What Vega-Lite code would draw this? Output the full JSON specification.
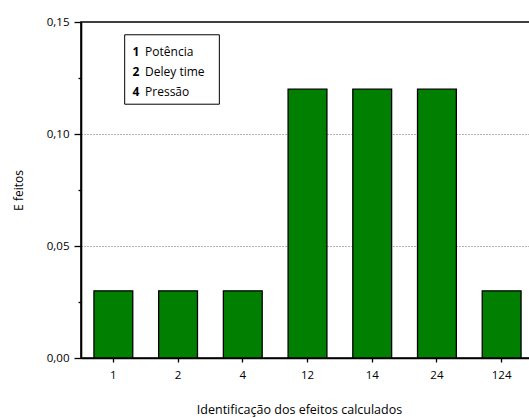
{
  "$schema": "https://vega.github.io/schema/vega-lite/v6.json",
  "autosize": "none",
  "width": 453,
  "height": 336,
  "padding": {"left": 81, "top": 22, "right": 0, "bottom": 60},
  "background": "white",
  "config": {
    "view": {"stroke": "black", "strokeWidth": 1.6},
    "font": "Open Sans",
    "axis": {"labelFont": "Open Sans", "titleFont": "Open Sans", "labelColor": "black", "titleColor": "black", "titleFontWeight": "normal"}
  },
  "datasets": {
    "effects": [
      {"effect": "1", "value": 0.03},
      {"effect": "2", "value": 0.03},
      {"effect": "4", "value": 0.03},
      {"effect": "12", "value": 0.12},
      {"effect": "14", "value": 0.12},
      {"effect": "24", "value": 0.12},
      {"effect": "124", "value": 0.03}
    ],
    "legend": [
      {"key": "1", "label": "Potência", "ly": 0.1367},
      {"key": "2", "label": "Deley time", "ly": 0.1277},
      {"key": "4", "label": "Pressão", "ly": 0.1189}
    ]
  },
  "layer": [
    {
      "data": {"name": "effects"},
      "mark": {"type": "bar", "fill": "#007f00", "stroke": "black", "strokeWidth": 1.3},
      "encoding": {
        "x": {
          "field": "effect", "type": "nominal", "sort": null,
          "scale": {"paddingInner": 0.4, "paddingOuter": 0.2},
          "axis": {
            "title": "Identificação dos efeitos calculados",
            "labelAngle": 0, "labelFontSize": 11.5, "labelPadding": 7,
            "tickSize": 4, "tickColor": "black", "tickWidth": 1.3,
            "domainColor": "black", "domainWidth": 1.6,
            "titleFontSize": 12.5, "titlePadding": 23, "titleX": 218
          }
        },
        "y": {
          "field": "value", "type": "quantitative",
          "scale": {"domain": [0, 0.15], "nice": false},
          "axis": {
            "title": "E feitos",
            "values": [0, 0.025, 0.05, 0.075, 0.1, 0.125, 0.15],
            "labelExpr": "round(datum.value*1000) % 50 == 0 ? replace(format(datum.value, '.2f'), '.', ',') : ''",
            "labelFontSize": 11.5, "labelPadding": 5,
            "tickColor": "black", "tickWidth": 1.3,
            "tickSize": {"condition": {"test": "round(datum.value*1000) % 50 == 0", "value": 7}, "value": 3},
            "domainColor": "black", "domainWidth": 1.6,
            "grid": true, "gridColor": "#666666", "gridDash": [1, 2], "gridWidth": 1,
            "gridOpacity": {"condition": {"test": "round(datum.value*1000) == 50 || round(datum.value*1000) == 100", "value": 1}, "value": 0},
            "titleFontSize": 12, "titlePadding": 21
          }
        }
      }
    },
    {
      "data": {"values": [{}]},
      "mark": {"type": "rect", "fill": "white", "stroke": "black", "strokeWidth": 1},
      "encoding": {
        "x": {"datum": 0.675, "type": "quantitative", "scale": {"domain": [0, 7]}, "axis": null},
        "x2": {"datum": 2.138},
        "y": {"datum": 0.1443, "type": "quantitative"},
        "y2": {"datum": 0.1133}
      }
    },
    {
      "data": {"name": "legend"},
      "mark": {"type": "text", "align": "left", "baseline": "middle", "fontSize": 12, "fontWeight": "bold", "font": "Open Sans"},
      "encoding": {
        "x": {"datum": 0.795, "type": "quantitative", "scale": {"domain": [0, 7]}, "axis": null},
        "y": {"field": "ly", "type": "quantitative"},
        "text": {"field": "key"}
      }
    },
    {
      "data": {"name": "legend"},
      "mark": {"type": "text", "align": "left", "baseline": "middle", "fontSize": 12, "font": "Open Sans"},
      "encoding": {
        "x": {"datum": 0.99, "type": "quantitative", "scale": {"domain": [0, 7]}, "axis": null},
        "y": {"field": "ly", "type": "quantitative"},
        "text": {"field": "label"}
      }
    }
  ],
  "resolve": {"scale": {"x": "independent"}}
}
